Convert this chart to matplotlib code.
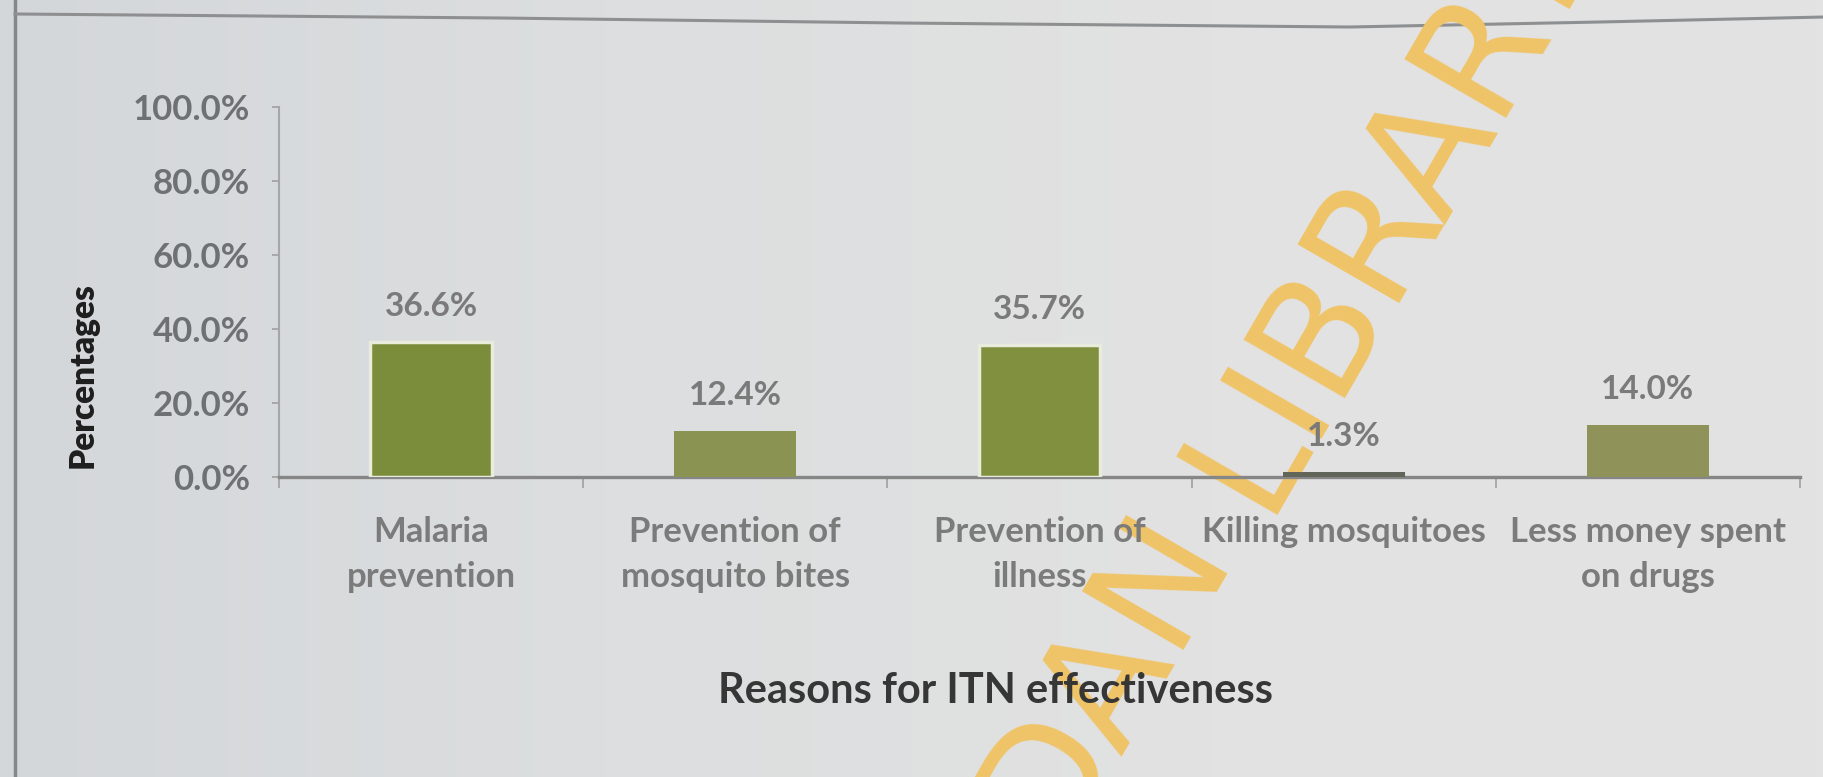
import matplotlib
matplotlib.use("Agg")
import matplotlib.pyplot as plt
import numpy as np
from matplotlib.lines import Line2D
from matplotlib.colors import LinearSegmentedColormap

# ---- data ----
categories = [
    "Malaria\nprevention",
    "Prevention of\nmosquito bites",
    "Prevention of\nillness",
    "Killing mosquitoes",
    "Less money spent\non drugs",
]
percentages = [36.6, 12.4, 35.7, 1.3, 14.0]
y_ticks = [0, 20, 40, 60, 80, 100]
y_tick_labels = ["0.0%", "20.0%", "40.0%", "60.0%", "80.0%", "100.0%"]

bar_colors = ["#7b8c3b", "#8a9352", "#80903f", "#62655a", "#8f935a"]
bar_edges = ["#e9ebdc", "none", "#e9ebdc", "none", "none"]

W, H, DPI = 1824, 777, 100
fig = plt.figure(figsize=(W / DPI, H / DPI), dpi=DPI)

# paper-like background with a soft left-to-right tone shift
bg = fig.add_axes([0, 0, 1, 1], zorder=-10)
cmap = LinearSegmentedColormap.from_list("paper", ["#d4d7da", "#dcdedf", "#e2e2e2", "#e3e3e3"])
bg.imshow(np.linspace(0, 1, 256)[None, :], aspect="auto", cmap=cmap, extent=[0, 1, 0, 1])
bg.set_axis_off()


def px(x, y):
    """Pixel position (top-left origin) to figure fraction."""
    return x / W, 1 - y / H


# page frame lines
fx, fy = zip(*[px(15, 0), px(15, H)])
fig.add_artist(Line2D(fx, fy, color="#85888b", lw=2.5, zorder=-5))
top_pts = [px(15, 14), px(500, 18), px(900, 23), px(1350, 27), px(1600, 22), px(1824, 17)]
tx, ty = zip(*top_pts)
fig.add_artist(Line2D(tx, ty, color="#8d8f91", lw=2.2, zorder=-5))

# ---- chart ----
left, right = 279 / W, 1800 / W
bottom, top = 1 - 477 / H, 1 - 107 / H
ax = fig.add_axes([left, bottom, right - left, top - bottom], zorder=1)
ax.set_facecolor("none")

x = np.arange(len(categories))
ax.bar(x, percentages, width=0.4, color=bar_colors, edgecolor=bar_edges, linewidth=2.5, zorder=3)

font = ["Lato", "DejaVu Sans"]
for xi, v in zip(x, percentages):
    ax.annotate(f"{v:.1f}%", (xi, v), xytext=(0, 15), textcoords="offset points",
                ha="center", va="bottom", fontsize=24, fontweight="bold",
                color="#7a7a7a", family=font)

ax.set_xlim(-0.5, len(categories) - 0.5)
ax.set_ylim(0, 100)

ax.set_yticks(y_ticks)
ax.set_yticklabels(y_tick_labels, fontsize=25, fontweight="bold", color="#6e7173", family=font)
ax.tick_params(axis="y", length=5, width=1.2, color="#a0a0a0", pad=16, direction="out")

ax.set_xticks(x)
ax.set_xticklabels(categories, fontsize=25, fontweight="bold", color="#7b7b7b",
                   family=font, linespacing=1.5)
ax.tick_params(axis="x", length=0, pad=28)
ax.set_xticks(np.arange(len(categories) + 1) - 0.5, minor=True)
ax.tick_params(axis="x", which="minor", length=8, width=1.2, color="#a0a0a0", direction="out")

for s in ["top", "right"]:
    ax.spines[s].set_visible(False)
ax.spines["bottom"].set_color("#868686")
ax.spines["bottom"].set_linewidth(2.4)
ax.spines["left"].set_color("#a4a6a8")
ax.spines["left"].set_linewidth(1.5)

ax.text(-0.1289, 0.276, "Percentages", transform=ax.transAxes, rotation=90,
        ha="center", va="center", fontsize=24, fontweight="heavy", color="#1e1e1e", family=font)

ax.text(0.471, -0.578, "Reasons for ITN effectiveness", transform=ax.transAxes,
        ha="center", va="center", fontsize=30, fontweight="bold", color="#363636", family=font)

# diagonal library watermark, laid under the chart texts
wm_kw = dict(rotation=60, rotation_mode="anchor", va="baseline", fontsize=115,
             color="#f0c468", family="DejaVu Sans", zorder=0.5)
lx, ly = px(1262, 515)
fig.text(lx, ly, "LIBRARY", ha="left", **wm_kw)
sx, sy = px(1262 - 51 * 0.5, 515 + 51 * 0.866)
fig.text(sx, sy, "UNIVERSITY OF IBADAN", ha="right", **wm_kw)

fig.savefig("out.png", dpi=DPI)
